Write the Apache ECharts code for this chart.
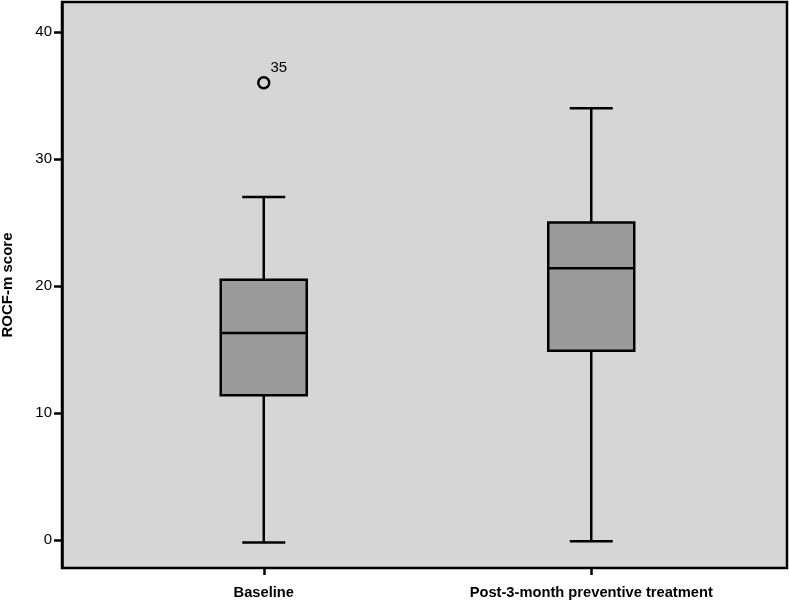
<!DOCTYPE html>
<html>
<head>
<meta charset="utf-8">
<script src="https://cdn.jsdelivr.net/npm/echarts@6/dist/echarts.min.js"></script>
<style>
  html, body { margin: 0; padding: 0; background: #fff; }
  #chart { width: 789px; height: 600px; }
</style>
</head>
<body>
<div id="chart"></div>
<script>
// groups on the x axis
var categories = ["Baseline", "Post-3-month preventive treatment"];
// min, Q1, median, Q3, max
var baselineStats = [-0.2, 11.4, 16.3, 20.5, 27.0];
var postStats = [-0.1, 14.9, 21.4, 25.0, 34.0];
// outlier: [group, value, case label]
var outliers = [["Baseline", 36, "35"]];
var yTicks = [0, 10, 20, 30, 40];

var boxData = [
  [0].concat(baselineStats),
  [1].concat(postStats)
];

var myChart = echarts.init(document.getElementById("chart"));

function renderBox(params, api) {
  var x = api.value(0);
  var pMin = api.coord([x, api.value(1)]);
  var pQ1 = api.coord([x, api.value(2)]);
  var pMed = api.coord([x, api.value(3)]);
  var pQ3 = api.coord([x, api.value(4)]);
  var pMax = api.coord([x, api.value(5)]);
  var cx = pMin[0];
  var half = 43, cap = 21.5;
  var line = { stroke: "#000", lineWidth: 2.5 };
  return {
    type: "group",
    children: [
      { type: "line", shape: { x1: cx, y1: pMin[1], x2: cx, y2: pQ1[1] }, style: line },
      { type: "line", shape: { x1: cx, y1: pQ3[1], x2: cx, y2: pMax[1] }, style: line },
      { type: "line", shape: { x1: cx - cap, y1: pMin[1], x2: cx + cap, y2: pMin[1] }, style: line },
      { type: "line", shape: { x1: cx - cap, y1: pMax[1], x2: cx + cap, y2: pMax[1] }, style: line },
      {
        type: "rect",
        shape: { x: cx - half, y: pQ3[1], width: half * 2, height: pQ1[1] - pQ3[1] },
        style: { fill: "#9b9b9b", stroke: "#000", lineWidth: 2.5 }
      },
      { type: "line", shape: { x1: cx - half, y1: pMed[1], x2: cx + half, y2: pMed[1] }, style: line }
    ]
  };
}

myChart.setOption({
  animation: false,
  textStyle: { fontFamily: "Liberation Sans, Arial, sans-serif" },
  grid: [
    {
      left: 62, right: 2, top: 2, bottom: 32,
      outerBoundsMode: "none",
      containLabel: false,
      show: true,
      backgroundColor: "#d6d6d6",
      borderColor: "#000",
      borderWidth: 2.5
    },
    { left: 100, right: 34, top: 2, bottom: 32, outerBoundsMode: "none", containLabel: false }
  ],
  xAxis: [
    { type: "value", gridIndex: 0, show: false, min: 0, max: 1 },
    {
      type: "category",
      gridIndex: 1,
      data: categories,
      boundaryGap: true,
      position: "bottom",
      axisLine: { show: false, onZero: false },
      axisTick: { show: true, alignWithLabel: true, length: 7, lineStyle: { color: "#000", width: 2.5 } },
      axisLabel: { color: "#000", fontWeight: "bold", fontSize: 14.7, margin: 17 },
      splitLine: { show: false }
    }
  ],
  yAxis: [
    {
      type: "value",
      gridIndex: 0,
      min: -2.2,
      max: 42.36,
      name: "ROCF-m score",
      nameLocation: "middle",
      nameGap: 47,
      nameTextStyle: { color: "#000", fontWeight: "bold", fontSize: 15 },
      axisLine: { show: true, lineStyle: { color: "#000", width: 2.5 } },
      axisTick: { show: true, inside: false, length: 8, customValues: yTicks, lineStyle: { color: "#000", width: 2.5 } },
      axisLabel: { color: "#000", fontSize: 15, margin: 10, customValues: yTicks },
      splitLine: { show: false }
    },
    { type: "value", gridIndex: 1, min: -2.2, max: 42.36, show: false, splitLine: { show: false } }
  ],
  series: [
    {
      type: "custom",
      xAxisIndex: 1,
      yAxisIndex: 1,
      renderItem: renderBox,
      encode: { x: 0, y: [1, 2, 3, 4, 5] },
      data: boxData,
      z: 3
    },
    {
      type: "scatter",
      xAxisIndex: 1,
      yAxisIndex: 1,
      symbol: "circle",
      symbolSize: 11,
      itemStyle: { color: "#d6d6d6", borderColor: "#000", borderWidth: 2.5, opacity: 1 },
      label: {
        show: true,
        position: "right",
        distance: 0,
        offset: [0, -15],
        color: "#000",
        fontSize: 15,
        formatter: function (p) { return p.data[2]; }
      },
      data: outliers,
      z: 4
    }
  ]
});
</script>
</body>
</html>
